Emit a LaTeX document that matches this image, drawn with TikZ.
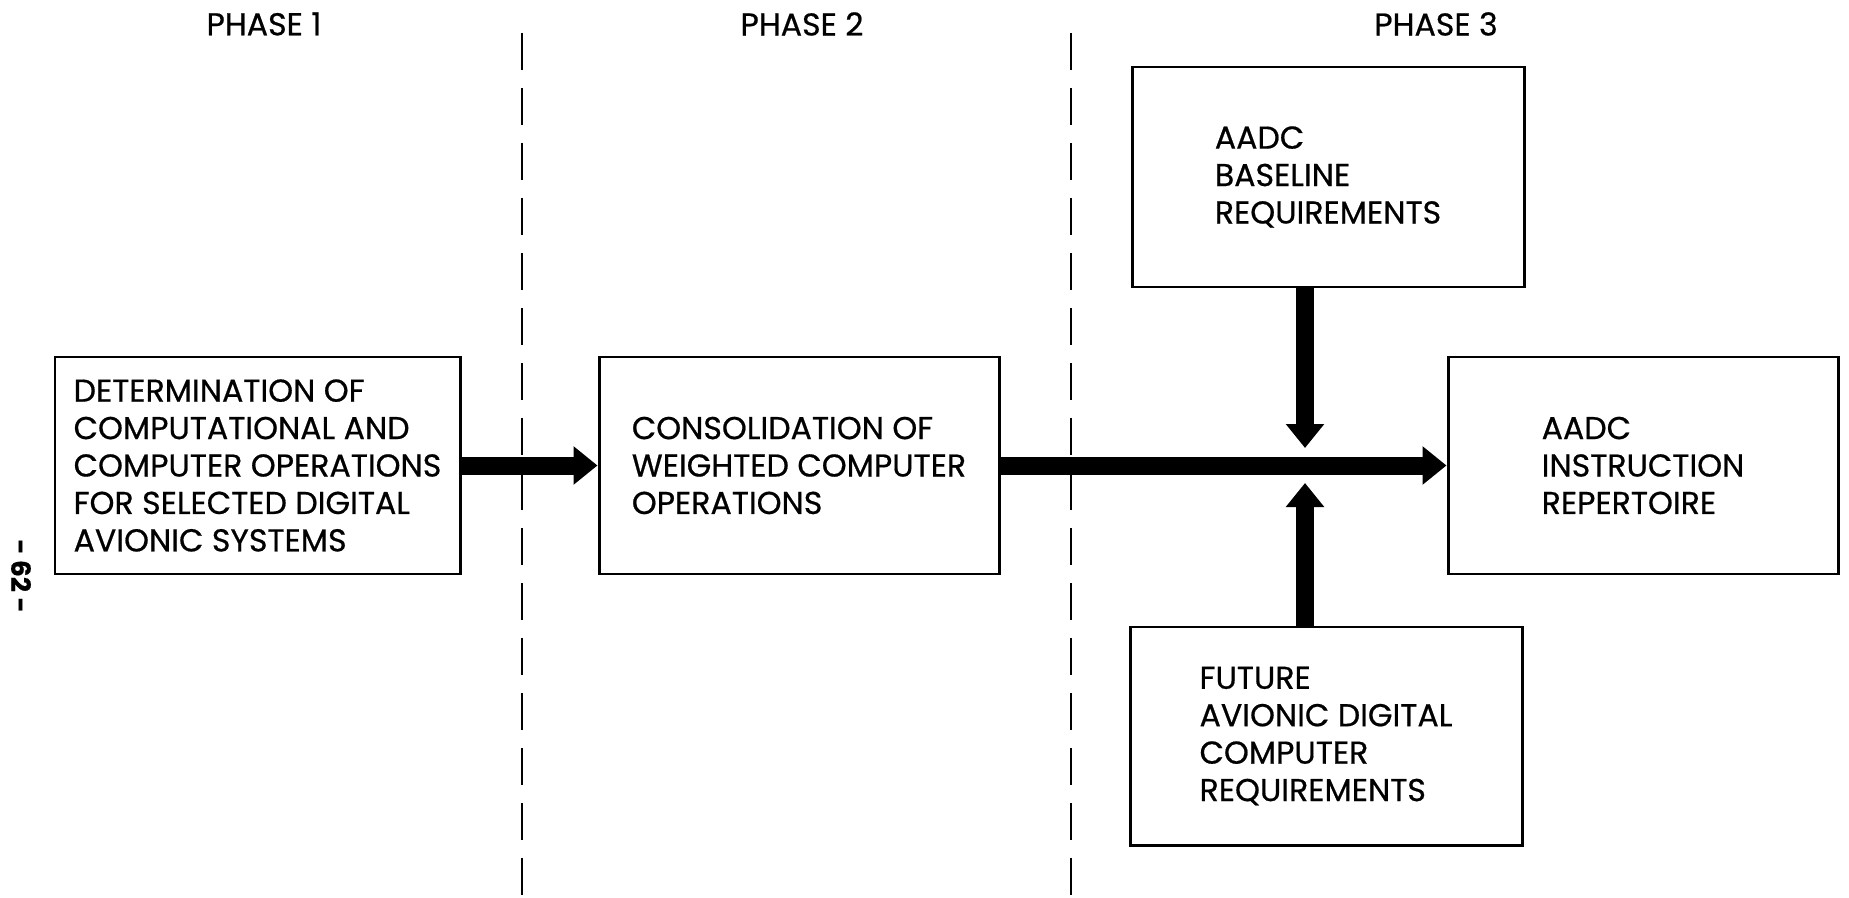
\documentclass[tikz,border=0pt]{standalone}
\usepackage{fontspec}
\setmainfont{Poppins}[FakeBold=0.6]
\usepackage{tikz}
\usetikzlibrary{ arrows.meta, % For the fat arrow heads
                 positioning, % For easy node-relative placements
               }
\newcommand{\blkfont}{\fontsize{18}{21.3}\selectfont}
\tikzset{
  blk/.style={draw, line width=1.7pt, align=left, font=\blkfont},
  phase/.style={font=\blkfont},
  fat/.style={line width=0.36cm, -{Triangle[length=0.48cm, width=0.74cm]}},
  border/.style={line width=1.6pt, dash pattern=on 0.74cm off 0.36cm},
}

\begin{document}
\begin{tikzpicture}
  \useasboundingbox (0,0) rectangle (36.98,-17.96);

  % phases
  \node[phase] (ph1) at (5.28,-0.48) {PHASE 1};
  \node[phase] (ph2) at (16.04,-0.48) {PHASE 2};
  \node[phase] (ph3) at (28.72,-0.48) {PHASE 3};
  \draw[border] (10.44,-0.66) -- (10.44,-17.96);
  \draw[border] (21.42,-0.66) -- (21.42,-17.96);

  % blocks
  \node[blk, minimum width=8.1cm, minimum height=4.34cm] (det) at (5.15,-9.31)
    {DETERMINATION OF\\COMPUTATIONAL AND\\COMPUTER OPERATIONS\\FOR SELECTED DIGITAL\\AVIONIC SYSTEMS};
  \node[blk, minimum width=8.0cm, minimum height=4.34cm] (cons) at (15.98,-9.31)
    {CONSOLIDATION OF\\WEIGHTED COMPUTER\\OPERATIONS};
  \node[blk, minimum width=7.84cm, minimum height=4.40cm] (base) at (26.56,-3.54)
    {AADC\\BASELINE\\REQUIREMENTS};
  \node[blk, minimum width=7.80cm, minimum height=4.34cm] (rep) at (32.86,-9.31)
    {AADC\\INSTRUCTION\\REPERTOIRE};
  \node[blk, minimum width=7.84cm, minimum height=4.36cm] (fut) at (26.52,-14.72)
    {FUTURE\\AVIONIC DIGITAL\\COMPUTER\\REQUIREMENTS};

  \node[font=\bfseries\fontsize{15}{15}\selectfont, rotate=-90] (pg) at (0.42,-11.52) {- 62 -};

  % arrows
  \coordinate (meet) at (26.10,-9.31);
  \draw[fat] (det) -- (cons);
  \draw[fat] (cons) -- (rep);
  \draw[fat] (base.south -| meet) -- ([yshift=0.35cm]meet);
  \draw[fat] (fut.north -| meet) -- ([yshift=-0.35cm]meet);
\end{tikzpicture}
\end{document}
